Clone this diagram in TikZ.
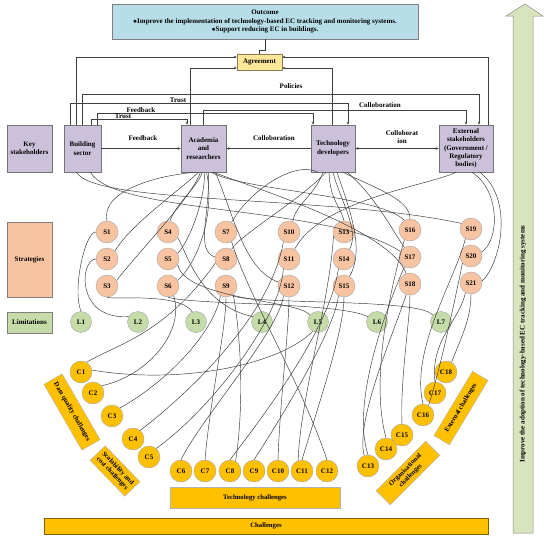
\documentclass[tikz,border=0pt]{standalone}
\usepackage{fontspec}
\setmainfont{Liberation Serif}
\usetikzlibrary{arrows.meta,calc}
\newcommand\dfont{\fontsize{7}{8.4}\selectfont\bfseries}
\newcommand\gfont{\fontsize{6.7}{7.6}\selectfont\bfseries}
\definecolor{stkc}{HTML}{CCC1DA}
\definecolor{outc}{HTML}{B7DEE8}
\definecolor{agc}{HTML}{FFE699}
\definecolor{strc}{HTML}{F8C3A0}
\definecolor{limc}{HTML}{C5DCA8}
\definecolor{chc}{HTML}{FFC000}
\definecolor{arrc}{HTML}{D7E4BD}
\tikzset{
  base/.style={font=\dfont, align=center, inner sep=1pt},
  stk/.style={base, draw=black!55, fill=stkc, line width=0.6pt},
  strc/.style={base, circle, draw=black!35, fill=strc, minimum size=22pt, inner sep=0pt},
  limc/.style={base, circle, draw=black!35, fill=limc, minimum size=21pt, inner sep=0pt},
  chc/.style={base, circle, draw=black!35, fill=chc, minimum size=22pt, inner sep=0pt},
  chbox/.style={base, font=\gfont, draw=black!30, fill=chc, inner sep=0.5pt},
  lbl/.style={base, inner sep=0.5pt},
  arr/.style={draw=black!75, line width=0.55pt, -{Stealth[length=3pt,width=2.6pt]}},
  cv/.style={draw=black!80, line width=0.45pt},
}
\begin{document}
\begin{tikzpicture}[x=1pt,y=-1pt]
\useasboundingbox (0,0) rectangle (550,541);
\fill[white] (0,0) rectangle (550,541);

% right arrow
\path[draw=black!45, fill=arrc, line width=0.5pt] (513,533) -- (513,16) -- (506,16) -- (525,4) -- (543,16) -- (533,16) -- (533,533) -- cycle;
\node[base, rotate=90] (arrtext) at (523,344) {Improve the adoption of technology-based EC tracking and monitoring systems};

% outcome and agreement
\node[base, draw=black!50, fill=outc, minimum width=306pt, minimum height=35pt] (O) at (265,21.5)
  {Outcome\\$\bullet$Improve the implementation of technology-based EC tracking and monitoring systems.\\$\bullet$Support reducing EC in buildings.};
\node[base, draw=black!45!agc, fill=agc, minimum width=45pt, minimum height=16pt] (Ag) at (259.5,62) {Agreement};
\draw[cv, line width=0.55pt] (O.south) -- ++(0,11) -| (Ag.north);

% stakeholders
\node[stk, minimum width=45pt, minimum height=47pt] (K) at (29.5,148.5) {Key\\stakeholders};
\node[stk, minimum width=37pt, minimum height=47pt] (B) at (82.5,148.5) {Building\\sector};
\node[stk, minimum width=45pt, minimum height=47pt] (A) at (203.5,148.5) {Academia\\and\\researchers};
\node[stk, minimum width=44pt, minimum height=47pt] (T) at (333,148.5) {Technology\\developers};
\node[stk, minimum width=54pt, minimum height=47pt] (E) at (466,148.5) {External\\stakeholders\\(Government /\\Regulatory\\bodies)};

% horizontal links
\draw[arr] (B.east) -- (A.west);
\draw[arr] (T.west) -- (A.east);
\draw[arr, {Stealth[length=3pt,width=2.6pt]}-{Stealth[length=3pt,width=2.6pt]}] (T.east) -- (E.west);
\node[lbl] (lf1) at (143,138) {Feedback};
\node[lbl] (lc1) at (274,138) {Colloboration};
\node[lbl] (lc2) at (402,137) {Colloborat\\ion};

% links to agreement
\draw[arr] ([xshift=-6.5pt]B.north) |- ([yshift=5pt]Ag.west);
\draw[arr] ([xshift=-13.5pt]A.north) |- ([yshift=-6pt]Ag.west);
\draw[arr] ([xshift=-1pt]T.north) |- ([yshift=-6pt]Ag.east);
\draw[arr] ([xshift=22pt]E.north) |- ([yshift=5pt]Ag.east);

% top loops
\draw[arr] ([xshift=-0.5pt]B.north) -- ++(0,-30) -| ([xshift=13pt]E.north);
\draw[arr] ([xshift=-12.5pt]B.north) -- ++(0,-21) -| ([xshift=15pt]T.north);
\draw[arr] (A.north) -- ++(0,-14) -| (E.north);
\draw[arr] ([xshift=14.5pt]B.north) -- ++(0,-11) -| ([xshift=-20pt]T.north);
\draw[arr] ([xshift=8.5pt]B.north) -- ++(0,-5) -| ([xshift=-16.5pt]A.north);
\node[lbl] (lp) at (291,86) {Policies};
\node[lbl] (lt1) at (178,100) {Trust};
\node[lbl] (lc3) at (380,105) {Colloboration};
\node[lbl] (lf2) at (141,110) {Feedback};
\node[lbl] (lt2) at (123,116.5) {Trust};

% row labels
\node[base, draw=black!50, fill=strc, minimum width=45pt, minimum height=75pt] (RS) at (29.5,259.5) {Strategies};
\node[base, draw=black!50, fill=limc, minimum width=45pt, minimum height=21pt] (RL) at (29.5,322.5) {Limitations};

% strategies
\node[strc] (S1) at (107,232) {S1};
\node[strc] (S2) at (107,259) {S2};
\node[strc] (S3) at (107,286) {S3};
\node[strc] (S4) at (168,232) {S4};
\node[strc] (S5) at (168,259) {S5};
\node[strc] (S6) at (168,286) {S6};
\node[strc] (S7) at (226,232) {S7};
\node[strc] (S8) at (226,259) {S8};
\node[strc] (S9) at (226,286) {S9};
\node[strc] (S10) at (289,232) {S10};
\node[strc] (S11) at (289,259) {S11};
\node[strc] (S12) at (289,286) {S12};
\node[strc] (S13) at (344,232) {S13};
\node[strc] (S14) at (344,259) {S14};
\node[strc] (S15) at (344,286) {S15};
\node[strc] (S16) at (410,230) {S16};
\node[strc] (S17) at (410,257) {S17};
\node[strc] (S18) at (410,284) {S18};
\node[strc] (S19) at (471,229) {S19};
\node[strc] (S20) at (471,256) {S20};
\node[strc] (S21) at (471,283) {S21};

% limitations
\node[limc] (L1) at (81,322) {L1};
\node[limc] (L2) at (138,322) {L2};
\node[limc] (L3) at (196,322) {L3};
\node[limc] (L4) at (262,322) {L4};
\node[limc] (L5) at (318,322) {L5};
\node[limc] (L6) at (377,322) {L6};
\node[limc] (L7) at (441,322) {L7};

% challenges
\node[chc] (C1) at (81,372) {C1};
\node[chc] (C2) at (93,393) {C2};
\node[chc] (C3) at (112,416) {C3};
\node[chc] (C4) at (133,439) {C4};
\node[chc] (C5) at (149,457) {C5};
\node[chc] (C6) at (181,471) {C6};
\node[chc] (C7) at (205,471) {C7};
\node[chc] (C8) at (230,471) {C8};
\node[chc] (C9) at (254,471) {C9};
\node[chc] (C10) at (278,471) {C10};
\node[chc] (C11) at (302,471) {C11};
\node[chc] (C12) at (327,471) {C12};
\node[chc] (C13) at (368,466) {C13};
\node[chc] (C14) at (386,449) {C14};
\node[chc] (C15) at (402,435) {C15};
\node[chc] (C16) at (423,415) {C16};
\node[chc] (C17) at (435,393) {C17};
\node[chc] (C18) at (446,372) {C18};

% challenge group boxes
\node[chbox, rotate=-60, minimum width=76pt, minimum height=21pt] (G1) at (72,412) {Data quality challenges};
\node[chbox, rotate=-46, minimum width=50pt, minimum height=21pt] (G2) at (115,471) {Scalability and\\cost challenges};
\node[chbox, minimum width=170pt, minimum height=21pt] (G3) at (255,497.5) {Technology challenges};
\node[chbox, rotate=45, minimum width=70pt, minimum height=20pt] (G4) at (408,473) {Organisational\\challenges};
\node[chbox, rotate=59, minimum width=75pt, minimum height=18pt] (G5) at (461,408) {External challenges};
\node[chbox, draw=black!50!chc, minimum width=444pt, minimum height=16pt] (G6) at (266,526) {Challenges};

% stakeholder -> strategy curves
\draw[cv] ([xshift=-6pt]B.south) .. controls (95,205) and (330,195) .. (S19.150);
\draw[cv] ([xshift=8pt]B.south) .. controls (115,215) and (330,205) .. (S17.150);
\draw[cv] ([xshift=-8pt]A.south) .. controls (160,175) and (100,190) .. (S1.90);
\draw[cv] ([xshift=-5pt]A.south) .. controls (180,190) and (130,225) .. (S2.45);
\draw[cv] ([xshift=-3pt]A.south) .. controls (190,200) and (140,250) .. (S3.30);
\draw[cv] ([xshift=-1pt]A.south) .. controls (195,190) and (175,205) .. (S4.80);
\draw[cv] ([xshift=1pt]A.south) .. controls (205,200) and (190,240) .. (S5.30);
\draw[cv] ([xshift=3pt]A.south) .. controls (215,210) and (200,260) .. (S6.30);
\draw[cv] ([xshift=5pt]A.south) .. controls (210,215) and (195,250) .. (S8.170);
\draw[cv] ([xshift=8pt]A.south) .. controls (240,190) and (380,195) .. (S16.120);
\draw[cv] ([xshift=10pt]A.south) .. controls (260,190) and (390,230) .. (S18.110);
\draw[cv] ([xshift=12pt]A.south) .. controls (235,220) and (245,270) .. (S12.160);
\draw[cv] ([xshift=-15pt]T.south) .. controls (295,160) and (250,190) .. (S7.60);
\draw[cv] ([xshift=-10pt]T.south) .. controls (315,195) and (295,205) .. (S10.70);
\draw[cv] ([xshift=-7pt]T.south) .. controls (300,200) and (240,235) .. (S8.60);
\draw[cv] ([xshift=-4pt]T.south) .. controls (330,200) and (340,205) .. (S13.90);
\draw[cv] ([xshift=0pt]T.south) .. controls (340,200) and (360,230) .. (S14.60);
\draw[cv] ([xshift=4pt]T.south) .. controls (350,210) and (365,250) .. (S15.60);
\draw[cv] ([xshift=10pt]T.south) .. controls (380,190) and (410,200) .. (S16.90);
\draw[cv] ([xshift=14pt]T.south) .. controls (375,195) and (395,235) .. (S17.120);
\draw[cv] ([xshift=-10pt]E.south) .. controls (430,185) and (320,200) .. (S11.60);
\draw[cv] ([xshift=6pt]E.south) .. controls (500,190) and (500,240) .. (S20.20);
\draw[cv] ([xshift=14pt]E.south) .. controls (515,200) and (500,265) .. (S21.10);

% strategy -> limitation curves
\draw[cv] (S1.180) .. controls (85,232) and (72,290) .. (L1.90);
\draw[cv] (S2.180) .. controls (80,259) and (75,320) .. (L2.150);
\draw[cv] (S3.270) .. controls (110,300) and (180,292) .. (L3.110);
\draw[cv] (S4.330) .. controls (187,253) and (200,305) .. (L4.150);
\draw[cv] (S5.330) .. controls (185,300) and (300,300) .. (L5.140);
\draw[cv] (S6.270) .. controls (190,305) and (340,302) .. (L6.150);
\draw[cv] (S9.300) .. controls (260,305) and (420,298) .. (L7.140);

% challenge -> strategy curves
\draw[cv] (C1.60) .. controls (115,345) and (165,335) .. (S8.200);
\draw[cv] (C1.10) .. controls (180,385) and (280,365) .. (L5.240);
\draw[cv] (C2.40) .. controls (150,375) and (185,330) .. (S6.300);
\draw[cv] (C3.45) .. controls (170,380) and (215,330) .. (S9.240);
\draw[cv] (C4.50) .. controls (180,400) and (270,320) .. (S10.240);
\draw[cv] (C5.50) .. controls (210,410) and (280,320) .. (S11.240);
\draw[cv] (C6.90) .. controls (200,420) and (280,330) .. (S12.240);
\draw[cv] (C7.90) .. controls (210,400) and (226,330) .. (S9.270);
\draw[cv] (C8.90) .. controls (260,420) and (330,330) .. (S14.240);
\draw[cv] (C9.90) .. controls (280,420) and (335,330) .. (S15.240);
\draw[cv] (C10.90) .. controls (280,400) and (289,330) .. (S12.270);
\draw[cv] (C11.90) .. controls (320,400) and (344,330) .. (S15.270);
\draw[cv] (C12.90) .. controls (300,380) and (250,300) .. (S7.300);
\draw[cv] (C13.90) .. controls (350,400) and (390,300) .. (S17.240);
\draw[cv] (C14.90) .. controls (370,380) and (390,290) .. (S16.240);
\draw[cv] (C15.90) .. controls (400,380) and (410,320) .. (S18.270);
\draw[cv] (C16.90) .. controls (410,350) and (455,280) .. (S19.240);
\draw[cv] (C17.90) .. controls (430,340) and (460,320) .. (S21.240);
\draw[cv] (C18.60) .. controls (460,340) and (471,320) .. (S21.270);
\draw[cv] (C16.60) .. controls (440,370) and (455,300) .. (S20.220);
\draw[cv] (C13.110) .. controls (355,420) and (395,330) .. (S18.250);
\draw[cv] (C8.60) .. controls (245,400) and (240,330) .. (S9.310);
\draw[cv] (C11.110) .. controls (300,400) and (330,300) .. (S13.200);
\end{tikzpicture}
\end{document}
